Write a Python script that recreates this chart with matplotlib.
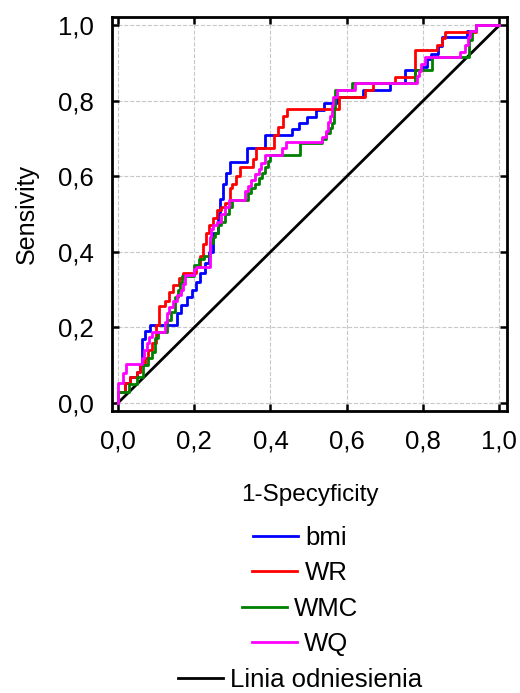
import numpy as np
import matplotlib
matplotlib.use('Agg')
import matplotlib.pyplot as plt

plt.rcParams['font.family'] = ['Liberation Sans', 'DejaVu Sans']

# krzywe ROC (x = miejsce skoku, y = nowy poziom; rysowane schodkowo)
bmi_fpr = [0.0, 0.0, 0.018, 0.031, 0.05, 0.058, 0.062, 0.07, 0.084, 0.154, 0.165, 0.18, 0.195, 0.205,
           0.215, 0.228, 0.24, 0.25, 0.262, 0.268, 0.276, 0.283, 0.294, 0.338, 0.386, 0.456, 0.475,
           0.497, 0.52, 0.54, 0.574, 0.643, 0.714, 0.753, 0.797, 0.81, 0.82, 0.84, 0.85, 0.915, 0.94, 1.0]
bmi_tpr = [0.0, 0.03, 0.052, 0.07, 0.083, 0.10, 0.17, 0.19, 0.206, 0.238, 0.26, 0.28, 0.30, 0.32,
           0.345, 0.37, 0.40, 0.45, 0.50, 0.54, 0.58, 0.61, 0.638, 0.674, 0.709, 0.725, 0.74,
           0.757, 0.775, 0.793, 0.81, 0.828, 0.847, 0.881, 0.89, 0.91, 0.925, 0.945, 0.969, 0.985, 1.0, 1.0]

wr_fpr = [0.0, 0.0, 0.018, 0.031, 0.05, 0.058, 0.07, 0.08, 0.09, 0.1, 0.108, 0.123, 0.135, 0.145, 0.16,
          0.171, 0.206, 0.215, 0.222, 0.23, 0.24, 0.25, 0.26, 0.27, 0.28, 0.294, 0.30, 0.31, 0.32, 0.355,
          0.362, 0.41, 0.42, 0.432, 0.443, 0.58, 0.648, 0.67, 0.727, 0.78, 0.836, 0.85, 0.858, 0.94, 1.0]
wr_tpr = [0.0, 0.03, 0.052, 0.07, 0.083, 0.10, 0.12, 0.14, 0.16, 0.206, 0.257, 0.27, 0.294, 0.312, 0.33,
          0.345, 0.36, 0.39, 0.42, 0.45, 0.47, 0.49, 0.51, 0.52, 0.53, 0.568, 0.58, 0.60, 0.625, 0.647,
          0.674, 0.709, 0.73, 0.76, 0.777, 0.81, 0.828, 0.847, 0.863, 0.934, 0.947, 0.965, 0.982, 1.0, 1.0]

wmc_fpr = [0.0, 0.0, 0.03, 0.05, 0.065, 0.08, 0.089, 0.097, 0.105, 0.13, 0.14, 0.15, 0.158, 0.163, 0.168,
           0.2, 0.212, 0.225, 0.241, 0.25, 0.255, 0.262, 0.27, 0.28, 0.29, 0.30, 0.34, 0.35, 0.36, 0.37,
           0.377, 0.386, 0.394, 0.40, 0.478, 0.535, 0.545, 0.556, 0.562, 0.566, 0.57, 0.613, 0.778,
           0.823, 0.92, 0.928, 0.94, 1.0]
wmc_tpr = [0.0, 0.03, 0.05, 0.07, 0.10, 0.12, 0.136, 0.172, 0.189, 0.22, 0.24, 0.28, 0.30, 0.317, 0.335,
           0.365, 0.38, 0.39, 0.423, 0.44, 0.45, 0.47, 0.48, 0.50, 0.52, 0.537, 0.555, 0.568, 0.58, 0.595,
           0.608, 0.625, 0.64, 0.656, 0.687, 0.70, 0.715, 0.727, 0.74, 0.78, 0.828, 0.847, 0.881,
           0.916, 0.96, 0.985, 1.0, 1.0]

wq_fpr = [0.0, 0.0, 0.014, 0.021, 0.063, 0.068, 0.075, 0.082, 0.089, 0.124, 0.128, 0.135, 0.145, 0.155,
          0.165, 0.17, 0.176, 0.2, 0.206, 0.241, 0.245, 0.25, 0.26, 0.27, 0.28, 0.29, 0.333, 0.34, 0.35,
          0.36, 0.37, 0.375, 0.385, 0.43, 0.44, 0.535, 0.545, 0.55, 0.555, 0.56, 0.565, 0.575, 0.622,
          0.784, 0.79, 0.795, 0.806, 0.898, 0.91, 0.918, 0.924, 0.94, 1.0]
wq_tpr = [0.0, 0.052, 0.08, 0.102, 0.12, 0.14, 0.16, 0.175, 0.189, 0.215, 0.237, 0.255, 0.27, 0.285,
          0.30, 0.315, 0.34, 0.355, 0.36, 0.44, 0.46, 0.47, 0.48, 0.50, 0.52, 0.537, 0.56, 0.575, 0.59,
          0.605, 0.62, 0.635, 0.656, 0.675, 0.69, 0.705, 0.72, 0.745, 0.76, 0.79, 0.81, 0.828, 0.846,
          0.865, 0.88, 0.898, 0.916, 0.93, 0.947, 0.969, 0.985, 1.0, 1.0]

ref_x = [0.0, 1.0]
ref_y = [0.0, 1.0]

labels = ['bmi', 'WR', 'WMC', 'WQ', 'Linia odniesienia']
colors = ['#0000ff', '#ff0000', '#008000', '#ff00ff', '#000000']
ticks = [0.0, 0.2, 0.4, 0.6, 0.8, 1.0]
tick_labels = ['0,0', '0,2', '0,4', '0,6', '0,8', '1,0']

fig = plt.figure(figsize=(5.2, 6.93), dpi=100)
ax = fig.add_axes([0.215, 0.407, 0.76, 0.568])

ref, = ax.plot(ref_x, ref_y, color=colors[4], lw=2.0, zorder=2)
handles = []
for fx, ty, c in zip([bmi_fpr, wr_fpr, wmc_fpr, wq_fpr],
                     [bmi_tpr, wr_tpr, wmc_tpr, wq_tpr], colors[:4]):
    h, = ax.plot(fx, ty, drawstyle='steps-post', color=c, lw=2.0, zorder=3)
    handles.append(h)
handles.append(ref)

ax.set_xlim(-0.016, 1.02)
ax.set_ylim(-0.021, 1.021)
ax.set_xticks(ticks)
ax.set_yticks(ticks)
ax.set_xticklabels(tick_labels)
ax.set_yticklabels(tick_labels)
ax.tick_params(direction='in', top=True, right=True, length=5, width=1.8,
               labelsize=18.5, pad=13)
ax.grid(True, color='#c8c8c8', ls='--', lw=0.8)
ax.set_axisbelow(True)
for s in ax.spines.values():
    s.set_linewidth(2.0)

ax.set_xlabel('1-Specyficity', fontsize=17.5, labelpad=22)
ax.set_ylabel('Sensivity', fontsize=18, labelpad=14)

# legenda: każdy wpis wyśrodkowany osobno
ys = [538, 573, 609, 644, 680]
for h, lab, yp in zip(handles, labels, ys):
    fig.legend([h], [lab], loc='center', bbox_to_anchor=(300 / 520, 1 - yp / 693),
               frameon=False, fontsize=18.5, handlelength=1.75, handletextpad=0.3,
               borderpad=0, borderaxespad=0)

fig.savefig('out.png', dpi=100)
